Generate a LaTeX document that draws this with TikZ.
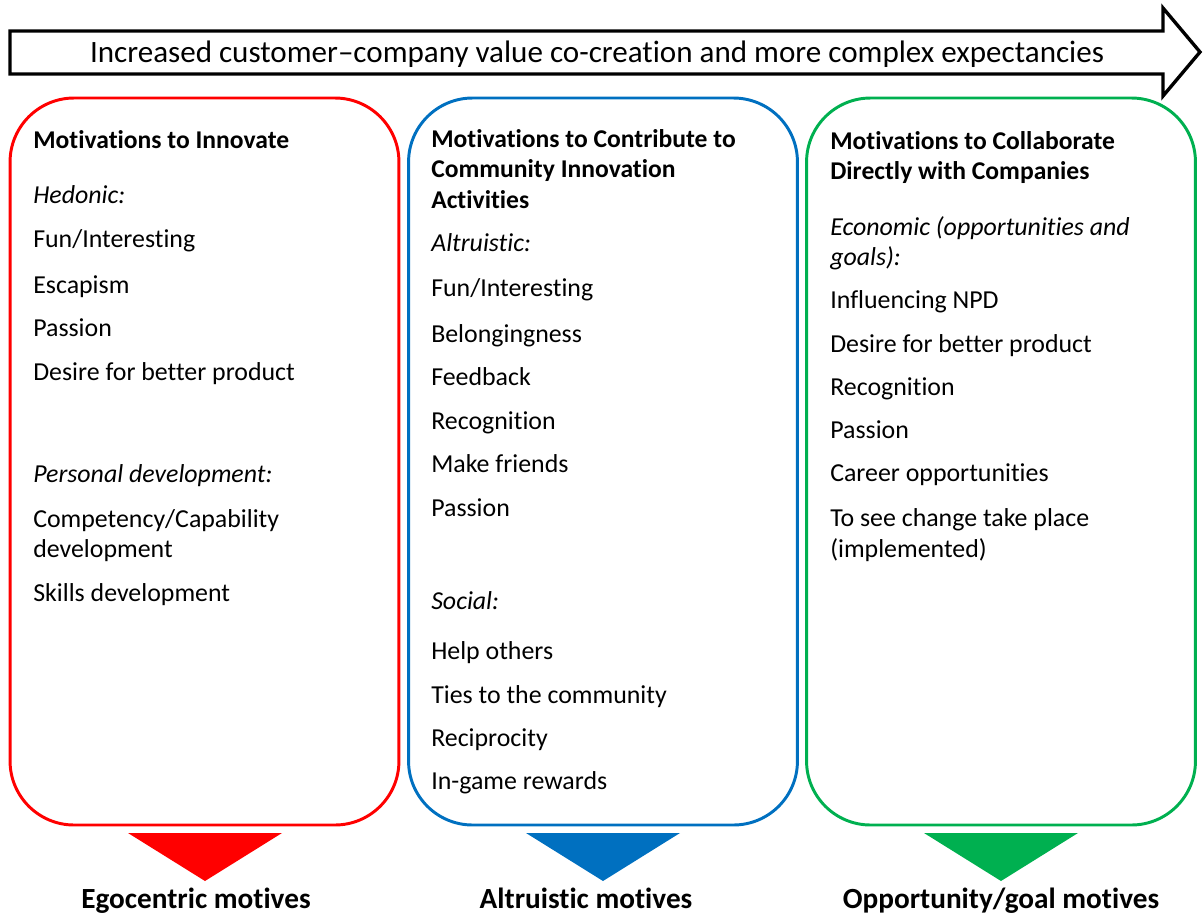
\documentclass[tikz,border=0pt]{standalone}
\usepackage{fontspec}
\setmainfont{Carlito}[Ligatures=NoCommon]
\usetikzlibrary{positioning}

\begin{document}
\begin{tikzpicture}[x=0.025cm,y=-0.025cm]
        \definecolor{boxred}{HTML}{FF0000}
        \definecolor{boxblue}{HTML}{0070C0}
        \definecolor{boxgreen}{HTML}{00B050}
        \tikzset{
            col/.style={draw=#1, line width=2.1pt, rounded corners=1.6cm,
                minimum width=9.72cm, minimum height=18.17cm},
            item/.style={anchor=base west, inner sep=0pt, font=\fontsize{18.4}{21}\selectfont},
            head/.style={item, font=\fontsize{18.2}{21}\selectfont\bfseries},
            cat/.style={item, font=\fontsize{18.4}{21}\selectfont\itshape},
            motive/.style={anchor=base, inner sep=0pt, font=\fontsize{20.8}{24}\selectfont\bfseries},
            funnel/.style={fill=#1, draw=none}
        }
        \useasboundingbox (0,0) rectangle (1203,916);

        % top arrow
        \draw[line width=2.4pt, miter limit=10] (10,31) -- (1163,31) -- (1163,8) -- (1200,52)
            -- (1163,96) -- (1163,74) -- (10,74) -- cycle;
        \node[anchor=base, inner sep=0pt, font=\fontsize{22.1}{26}\selectfont] (trend) at (597,62)
            {Increased customer--company value co-creation and more complex expectancies};

        % the three columns
        \node[col=boxred] (innovate) at (204.5,461.5) {};
        \node[col=boxblue] (contribute) at (603,461.5) {};
        \node[col=boxgreen] (collaborate) at (1001,461.5) {};

        % red column
        \node[head] (r0) at (33,148) {Motivations to Innovate};
        \node[cat] (r1) at (33,203) {Hedonic:};
        \node[item] (r2) at (33,247) {Fun/Interesting};
        \node[item] (r3) at (33,293) {Escapism};
        \node[item] (r4) at (33,336) {Passion};
        \node[item] (r5) at (33,380) {Desire for better product};
        \node[cat] (r6) at (33,482) {Personal development:};
        \node[item] (r7) at (33,527) {Competency/Capability};
        \node[item] (r8) at (33,557) {development};
        \node[item] (r9) at (33,601) {Skills development};

        % blue column
        \node[head] (b0) at (431,147) {Motivations to Contribute to};
        \node[head] (b1) at (431,177) {Community Innovation};
        \node[head] (b2) at (431,208) {Activities};
        \node[cat] (b3) at (431,251) {Altruistic:};
        \node[item] (b4) at (431,296) {Fun/Interesting};
        \node[item] (b5) at (431,342) {Belongingness};
        \node[item] (b6) at (431,385) {Feedback};
        \node[item] (b7) at (431,429) {Recognition};
        \node[item] (b8) at (431,472) {Make friends};
        \node[item] (b9) at (431,516) {Passion};
        \node[cat] (b10) at (431,609) {Social:};
        \node[item] (b11) at (431,659) {Help others};
        \node[item] (b12) at (431,703) {Ties to the community};
        \node[item] (b13) at (431,746) {Reciprocity};
        \node[item] (b14) at (431,789) {In-game rewards};

        % green column
        \node[head] (g0) at (830,149) {Motivations to Collaborate};
        \node[head] (g1) at (830,179) {Directly with Companies};
        \node[cat] (g2) at (830,235) {Economic (opportunities and};
        \node[cat] (g3) at (830,265) {goals):};
        \node[item] (g4) at (830,308) {Influencing NPD};
        \node[item] (g5) at (830,352) {Desire for better product};
        \node[item] (g6) at (830,395) {Recognition};
        \node[item] (g7) at (830,438) {Passion};
        \node[item] (g8) at (830,481) {Career opportunities};
        \node[item] (g9) at (830,526) {To see change take place};
        \node[item] (g10) at (830,557) {(implemented)};

        % funnels and motives
        \fill[funnel=boxred] (128,833) -- (282,833) -- (205,881) -- cycle;
        \fill[funnel=boxblue] (526,833) -- (680,833) -- (603,881) -- cycle;
        \fill[funnel=boxgreen] (924,833) -- (1078,833) -- (1001,881) -- cycle;
        \node[motive] (ego) at (196,908) {Egocentric motives};
        \node[motive] (altru) at (586,908) {Altruistic motives};
        \node[motive] (oppo) at (1001,908) {Opportunity/goal motives};
\end{tikzpicture}
\end{document}
